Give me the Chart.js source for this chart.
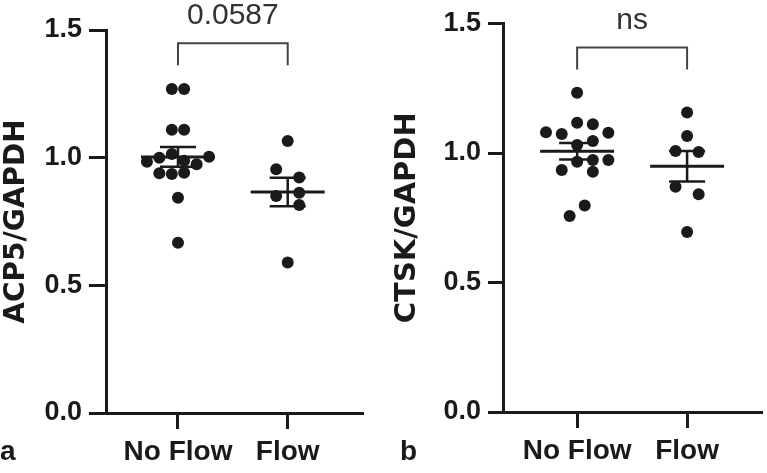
<!DOCTYPE html>
<html>
<head>
<meta charset="utf-8">
<script src="https://cdn.jsdelivr.net/npm/chart.js@4.4.0/dist/chart.umd.min.js"></script>
<style>
html,body{margin:0;padding:0;background:#fff;}
#wrap{position:relative;width:767px;height:473px;overflow:hidden;}
.panel{position:absolute;top:0;height:473px;}
#left{left:0;width:383px;}
#right{left:383px;width:384px;}
</style>
</head>
<body>
<div id="wrap">
  <div class="panel" id="left"><canvas id="acp5Chart"></canvas></div>
  <div class="panel" id="right"><canvas id="ctskChart"></canvas></div>
</div>
<script>
// groups on the x axis
var groups = ['No Flow', 'Flow'];
var yTicks = [0, 0.5, 1.0, 1.5];

// panel a : ACP5/GAPDH
var acp5NoFlow = [1.269, 1.269, 1.109, 1.109, 0.984, 1.000, 1.014, 0.988, 0.974, 1.004, 0.939, 0.936, 0.941, 0.843, 0.667];
var acp5NoFlowSpread = [-0.056, 0.056, -0.056, 0.056, -0.283, -0.170, -0.056, 0.056, 0.170, 0.283, -0.170, -0.056, 0.056, 0, 0];
var acp5Flow = [1.065, 0.955, 0.922, 0.850, 0.863, 0.815, 0.589];
var acp5FlowSpread = [0, -0.105, 0.105, -0.105, 0.105, 0.105, 0];
var acp5Bracket = 1.448;
var acp5Label = '0.0587';

// panel b : CTSK/GAPDH
var ctskNoFlow = [1.233, 1.080, 1.073, 1.117, 1.111, 1.078, 1.031, 1.046, 0.966, 0.973, 0.973, 0.934, 0.928, 0.797, 0.757];
var ctskNoFlowSpread = [0, -0.283, -0.140, 0, 0.143, 0.284, 0, 0.143, 0, 0.143, 0.284, -0.140, 0.143, 0.069, -0.068];
var ctskFlow = [1.156, 1.066, 1.008, 1.004, 0.870, 0.841, 0.695];
var ctskFlowSpread = [0, 0, -0.105, 0.105, -0.105, 0.105, 0];
var ctskBracket = 1.407;
var ctskLabel = 'ns';

var INK = '#1a1a1a';
Chart.defaults.font.family = '"Liberation Sans", Arial, sans-serif';
Chart.defaults.color = INK;

function toPoints(values, spread, groupNo){
	var pts = [];
	for(var i=0;i<values.length;i++){
		pts.push({x: groupNo + spread[i], y: values[i]});
	}
	return pts;
}

// mean +/- SEM lines, significance bracket and panel letter
var summaryPlugin = {
	id: 'dotSummary',
	afterDatasetsDraw: function(chart, args, opts){
		var ctx = chart.ctx;
		var xs = chart.scales.x, ys = chart.scales.y;
		function seg(x1, y1, x2, y2){
			ctx.beginPath(); ctx.moveTo(x1, y1); ctx.lineTo(x2, y2); ctx.stroke();
		}
		ctx.save();
		ctx.strokeStyle = INK;
		opts.groups.forEach(function(vals, i){
			var n = vals.length;
			var mean = vals.reduce(function(a, b){ return a + b; }, 0) / n;
			var ss = vals.reduce(function(a, b){ return a + (b - mean) * (b - mean); }, 0);
			var sem = Math.sqrt(ss / (n - 1)) / Math.sqrt(n);
			var cx = xs.getPixelForValue(i + 1);
			var yMean = ys.getPixelForValue(mean);
			var yHi = ys.getPixelForValue(mean + sem);
			var yLo = ys.getPixelForValue(mean - sem);
			ctx.lineWidth = 3;
			seg(cx - 37, yMean, cx + 37, yMean);
			ctx.lineWidth = 2.5;
			seg(cx, yHi, cx, yLo);
			seg(cx - 18, yHi, cx + 18, yHi);
			seg(cx - 18, yLo, cx + 18, yLo);
		});

		var x1 = xs.getPixelForValue(1), x2 = xs.getPixelForValue(2);
		var yb = ys.getPixelForValue(opts.bracket);
		ctx.strokeStyle = '#444';
		ctx.lineWidth = 2;
		ctx.beginPath();
		ctx.moveTo(x1, yb + 22); ctx.lineTo(x1, yb); ctx.lineTo(x2, yb); ctx.lineTo(x2, yb + 22);
		ctx.stroke();
		ctx.fillStyle = '#333';
		ctx.font = '30px "Liberation Sans", Arial, sans-serif';
		ctx.textAlign = 'center';
		ctx.textBaseline = 'alphabetic';
		ctx.fillText(opts.label, (x1 + x2) / 2, yb - 19);

		ctx.fillStyle = INK;
		ctx.font = 'bold 28px "Liberation Sans", Arial, sans-serif';
		ctx.textAlign = 'left';
		ctx.fillText(opts.tag, opts.tagX, 460);
		ctx.restore();
	}
};

function makeChart(canvasId, cfg){
	var ctx = document.getElementById(canvasId).getContext('2d');
	return new Chart(ctx, {
		type: 'scatter',
		data: {
			datasets: [{
				data: toPoints(cfg.noFlow, cfg.noFlowSpread, 1)
			},{
				data: toPoints(cfg.flow, cfg.flowSpread, 2)
			}]
		},
		options: {
			responsive: true,
			maintainAspectRatio: false,
			animation: false,
			layout: {padding: {top: cfg.padTop, right: cfg.padRight, left: 0, bottom: 0}},
			elements: {point: {radius: 6, hoverRadius: 6, backgroundColor: INK, borderWidth: 0}},
			clip: false,
			plugins: {
				legend: {display: false},
				tooltip: {enabled: false},
				dotSummary: {
					groups: [cfg.noFlow, cfg.flow],
					bracket: cfg.bracket,
					label: cfg.label,
					tag: cfg.tag,
					tagX: cfg.tagX
				}
			},
			scales: {
				x: {
					type: 'linear',
					min: cfg.xMin,
					max: cfg.xMax,
					afterBuildTicks: function(scale){
						scale.ticks = [{value: 1}, {value: 2}];
					},
					afterFit: function(scale){ scale.height = cfg.xAxisHeight; },
					ticks: {
						autoSkip: false,
						maxRotation: 0,
						padding: 6,
						color: INK,
						font: {size: 28, weight: 'bold'},
						callback: function(v){ return groups[v - 1]; }
					},
					grid: {drawOnChartArea: false, drawTicks: true, tickLength: 16, lineWidth: 3, color: INK},
					border: {display: true, width: 3, color: INK}
				},
				y: {
					min: 0,
					max: 1.5,
					afterBuildTicks: function(scale){
						scale.ticks = yTicks.map(function(v){ return {value: v}; });
					},
					afterFit: function(scale){ scale.width = cfg.yAxisWidth; },
					ticks: {
						padding: 7,
						color: INK,
						font: {size: 27, weight: 'bold'},
						callback: function(v){ return v.toFixed(1); }
					},
					grid: {drawOnChartArea: false, drawTicks: true, tickLength: cfg.yTickLen, lineWidth: 3, color: INK},
					border: {display: true, width: 3, color: INK},
					title: {
						display: true,
						text: cfg.title,
						color: INK,
						padding: {top: cfg.titlePad, bottom: 0},
						font: {family: '"DejaVu Sans", sans-serif', size: cfg.titleSize, weight: 'bold'}
					}
				}
			}
		},
		plugins: [summaryPlugin]
	});
}

makeChart('acp5Chart', {
	noFlow: acp5NoFlow, noFlowSpread: acp5NoFlowSpread,
	flow: acp5Flow, flowSpread: acp5FlowSpread,
	bracket: acp5Bracket, label: acp5Label,
	title: 'ACP5/GAPDH', tag: 'a', tagX: 0, titleSize: 28,
	padTop: 30, padRight: 21, yAxisWidth: 106, xAxisHeight: 60,
	xMin: 0.344, xMax: 2.677, yTickLen: 17, titlePad: 0
});

makeChart('ctskChart', {
	noFlow: ctskNoFlow, noFlowSpread: ctskNoFlowSpread,
	flow: ctskFlow, flowSpread: ctskFlowSpread,
	bracket: ctskBracket, label: ctskLabel,
	title: 'CTSK/GAPDH', tag: 'b', tagX: 17, titleSize: 29,
	padTop: 23.5, padRight: 2, yAxisWidth: 120, xAxisHeight: 61,
	xMin: 0.326, xMax: 2.672, yTickLen: 15, titlePad: 7
});
</script>
</body>
</html>
